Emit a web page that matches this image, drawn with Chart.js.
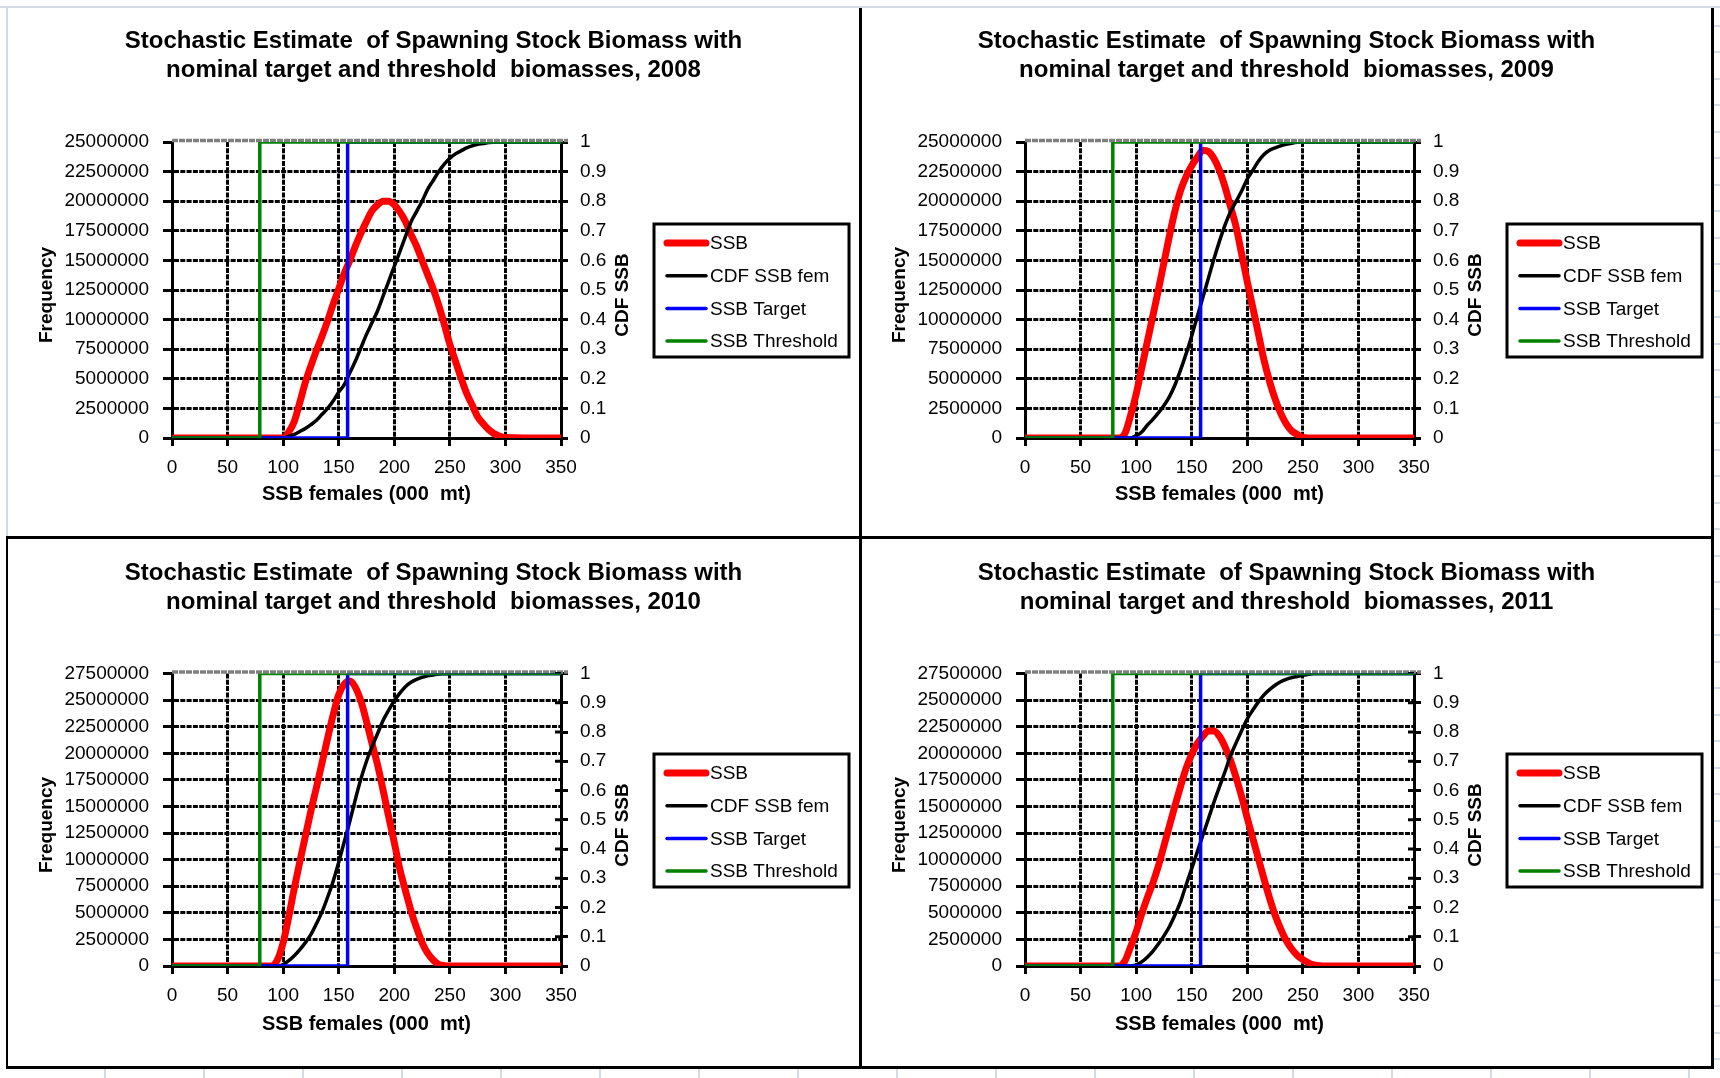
<!DOCTYPE html>
<html>
<head>
<meta charset="utf-8">
<title>Stochastic Estimate of Spawning Stock Biomass</title>
<script src="https://cdn.jsdelivr.net/npm/chart.js@4.4.1/dist/chart.umd.min.js"></script>
<style>
html, body { margin: 0; padding: 0; background: #fff; }
#page { position: relative; width: 1720px; height: 1078px; overflow: hidden; background: #fff; }
canvas { position: absolute; }
.ln { position: absolute; background: #000; }
.cell { position: absolute; background: #d5dbe6; }
</style>
</head>
<body>
<div id="page">
  <canvas id="c2008" width="849" height="527" style="left:9px;top:9px"></canvas>
  <canvas id="c2009" width="849" height="527" style="left:862px;top:9px"></canvas>
  <canvas id="c2010" width="849" height="527" style="left:9px;top:539px"></canvas>
  <canvas id="c2011" width="849" height="527" style="left:862px;top:539px"></canvas>

  <div class="cell" style="left:0;top:6px;width:1720px;height:2px"></div>
  <div class="cell" style="left:6px;top:6px;width:2px;height:531px"></div>
  <div class="ln" style="left:859px;top:8px;width:3px;height:1060px"></div>
  <div class="ln" style="left:6px;top:536px;width:1707px;height:3px"></div>
  <div class="ln" style="left:1711px;top:8px;width:3px;height:1060px"></div>
  <div class="ln" style="left:6px;top:1066px;width:1708px;height:3px"></div>
  <div class="ln" style="left:6px;top:536px;width:2px;height:532px"></div>
  <div id="cells"></div>
</div>

<script>
// SSB females (000 mt) at which the curves were read
const ssbGrid = [0, 80, 85, 90, 95, 100, 105, 110, 115, 120, 125, 130, 135, 140, 145, 150, 155, 160, 165, 170,
  175, 180, 185, 190, 195, 200, 205, 210, 215, 220, 225, 230, 235, 240, 245, 250, 255, 260, 265, 270,
  275, 280, 285, 290, 295, 300, 350];

// frequency, in millions
const freq2008 = [0, 0, 0, 0, 0, 0, 0.5, 1.4, 3.0, 4.7, 6.1, 7.4, 8.6, 9.9, 11.3, 12.6, 13.9, 15.0, 16.2, 17.3,
  18.3, 19.2, 19.7, 20.0, 20.0, 19.7, 19.1, 18.3, 17.2, 16.2, 15.0, 13.8, 12.6, 11.2, 9.6, 7.9, 6.5, 5.1, 3.8, 2.8,
  1.8, 1.2, 0.7, 0.35, 0.15, 0.05, 0];
const freq2009 = [0, 0, 0, 0.4, 1.9, 3.7, 5.9, 8.1, 10.3, 12.5, 14.8, 17.1, 19.2, 20.9, 22.1, 23.0, 23.7, 24.3, 24.2, 23.6,
  22.6, 21.2, 19.5, 17.8, 15.5, 13.2, 11.0, 8.8, 6.6, 4.8, 3.3, 2.1, 1.2, 0.6, 0.3, 0.05, 0, 0, 0, 0,
  0, 0, 0, 0, 0, 0, 0];
const freq2010 = [0, 0, 0, 0, 0.6, 2.2, 4.6, 7.3, 9.8, 12.2, 14.6, 16.8, 19.1, 21.4, 23.6, 25.5, 26.5, 26.8, 26.2, 24.9,
  23.0, 20.9, 18.9, 16.5, 14.0, 11.6, 9.1, 7.1, 5.2, 3.6, 2.2, 1.2, 0.56, 0.15, 0.03, 0, 0, 0, 0, 0,
  0, 0, 0, 0, 0, 0, 0];
const freq2011 = [0, 0, 0, 0.5, 1.8, 3.2, 4.9, 6.4, 7.8, 9.4, 11.3, 13.2, 15.1, 16.9, 18.6, 19.9, 20.9, 21.6, 22.1, 22.1,
  21.6, 20.6, 19.3, 17.7, 15.9, 13.9, 12.0, 10.1, 8.2, 6.4, 4.8, 3.5, 2.4, 1.6, 1.0, 0.6, 0.3, 0.1, 0.02, 0,
  0, 0, 0, 0, 0, 0, 0];

// cumulative distribution (right axis)
const cdf2008 = [0, 0, 0, 0, 0, 0, 0.005, 0.012, 0.022, 0.032, 0.045, 0.06, 0.08, 0.10, 0.125, 0.155, 0.18, 0.22, 0.26, 0.305,
  0.35, 0.39, 0.43, 0.48, 0.53, 0.58, 0.63, 0.68, 0.73, 0.765, 0.80, 0.84, 0.87, 0.90, 0.925, 0.945, 0.96, 0.97, 0.98, 0.987,
  0.992, 0.995, 0.998, 1, 1, 1, 1];
const cdf2009 = [0, 0, 0, 0, 0, 0.008, 0.02, 0.043, 0.063, 0.085, 0.11, 0.14, 0.18, 0.23, 0.285, 0.345, 0.41, 0.475, 0.54, 0.605,
  0.665, 0.72, 0.765, 0.80, 0.835, 0.875, 0.905, 0.935, 0.958, 0.972, 0.98, 0.987, 0.992, 0.996, 0.999, 1, 1, 1, 1, 1,
  1, 1, 1, 1, 1, 1, 1];
const cdf2010 = [0, 0, 0, 0, 0, 0.005, 0.018, 0.035, 0.056, 0.08, 0.108, 0.145, 0.185, 0.235, 0.29, 0.355, 0.425, 0.495, 0.57, 0.64,
  0.70, 0.75, 0.795, 0.84, 0.875, 0.907, 0.933, 0.955, 0.97, 0.98, 0.987, 0.992, 0.995, 0.998, 0.999, 1, 1, 1, 1, 1,
  1, 1, 1, 1, 1, 1, 1];
const cdf2011 = [0, 0, 0, 0, 0, 0.004, 0.014, 0.03, 0.05, 0.075, 0.103, 0.135, 0.175, 0.22, 0.278, 0.333, 0.39, 0.447, 0.503, 0.56,
  0.613, 0.665, 0.72, 0.763, 0.805, 0.845, 0.875, 0.903, 0.927, 0.945, 0.96, 0.972, 0.98, 0.986, 0.99, 0.994, 0.997, 1, 1, 1,
  1, 1, 1, 1, 1, 1, 1];

// reference points drawn as steps on the CDF axis
const targetX = [0, 158, 158, 350];
const thresholdX = [0, 79, 79, 350];
const stepY = [0, 0, 1, 1];

const years = [2008, 2009, 2010, 2011];
const freqSeries = [freq2008, freq2009, freq2010, freq2011];
const cdfSeries = [cdf2008, cdf2009, cdf2010, cdf2011];
const freqAxisMax = [25000000, 25000000, 27500000, 27500000];
const freqStep = 2500000;
const seriesLabels = ['SSB', 'CDF SSB fem', 'SSB Target', 'SSB Threshold'];

const FONT = '"Liberation Sans", Arial, Helvetica, sans-serif';
Chart.defaults.font.family = FONT;
Chart.defaults.color = '#000';

const CW = 849, CH = 527;
const PLOT_LEFT = 163, PLOT_RIGHT = 552;
const GRID_DASH = [5, 1.3];

// light spreadsheet cells around the charts
(function () {
  const host = document.getElementById('cells');
  let html = '';
  for (let x = 104; x < 1720; x += 99) html += '<div class="cell" style="left:' + x + 'px;top:1069px;width:2px;height:9px"></div>';
  for (let y = 1058; y > 8; y -= 26.5) html += '<div class="cell" style="left:1714px;top:' + Math.round(y) + 'px;width:6px;height:2px"></div>';
  host.innerHTML = html;
})();

const panelDecor = {
  id: 'panelDecor',
  beforeDatasetsDraw(chart, args, opts) {
    const { ctx, chartArea: a, scales } = chart;
    ctx.save();
    // grey top edge of the plot area
    ctx.strokeStyle = '#808080';
    ctx.lineWidth = 3.5;
    ctx.setLineDash([6, 1]);
    ctx.beginPath();
    ctx.moveTo(a.left, a.top - 1.5);
    ctx.lineTo(a.right + 7, a.top - 1.5);
    ctx.stroke();
    ctx.setLineDash([]);
    if (opts.crossTicks) {
      ctx.strokeStyle = '#000';
      ctx.lineWidth = 3;
      scales.y2.ticks.forEach(t => {
        const y = scales.y2.getPixelForValue(t.value);
        ctx.beginPath();
        ctx.moveTo(a.right - 6, y);
        ctx.lineTo(a.right, y);
        ctx.stroke();
      });
    }
    ctx.restore();
  },
  afterDraw(chart) {
    const { ctx } = chart;
    ctx.save();
    ctx.fillStyle = '#000';
    ctx.textAlign = 'center';
    ctx.textBaseline = 'middle';
    ctx.font = 'bold 19px ' + FONT;
    [[38, 'Frequency'], [614, 'CDF SSB']].forEach(([x, t]) => {
      ctx.save();
      ctx.translate(x, 286);
      ctx.rotate(-Math.PI / 2);
      ctx.fillText(t, 0, 0);
      ctx.restore();
    });

    // legend
    ctx.strokeStyle = '#000';
    ctx.lineWidth = 3;
    ctx.strokeRect(645, 215, 195, 133);
    ctx.font = '19px ' + FONT;
    ctx.textAlign = 'left';
    chart.data.datasets.forEach((ds, i) => {
      const y = 234 + i * 32.7;
      ctx.strokeStyle = ds.borderColor;
      ctx.lineWidth = ds.borderWidth;
      ctx.lineCap = 'round';
      ctx.beginPath();
      ctx.moveTo(658, y);
      ctx.lineTo(697, y);
      ctx.stroke();
      ctx.fillText(ds.label, 701, y + 1);
    });
    ctx.restore();
  }
};

function buildChart(i) {
  const top = i < 2 ? { title: 17.5, plot: 133, bottom: 429 } : { title: 19.5, plot: 134.5, bottom: 427 };
  const yMax = freqAxisMax[i];

  new Chart(document.getElementById('c' + years[i]), {
    type: 'scatter',
    data: {
      datasets: [
        {
          label: seriesLabels[0],
          data: ssbGrid.map((x, k) => ({ x, y: freqSeries[i][k] * 1e6 })),
          yAxisID: 'y', showLine: true, borderColor: '#ff0000', borderWidth: 7,
          borderJoinStyle: 'round', borderCapStyle: 'round',
          cubicInterpolationMode: 'monotone', pointRadius: 0, clip: 0, order: 4
        },
        {
          label: seriesLabels[1],
          data: ssbGrid.map((x, k) => ({ x, y: cdfSeries[i][k] })),
          yAxisID: 'y2', showLine: true, borderColor: '#000000', borderWidth: 3.5,
          cubicInterpolationMode: 'monotone', pointRadius: 0, clip: 0, order: 3
        },
        {
          label: seriesLabels[2],
          data: targetX.map((x, k) => ({ x, y: stepY[k] })),
          yAxisID: 'y2', showLine: true, borderColor: '#0000ff', borderWidth: 3.5,
          pointRadius: 0, clip: 0, order: 2
        },
        {
          label: seriesLabels[3],
          data: thresholdX.map((x, k) => ({ x, y: stepY[k] })),
          yAxisID: 'y2', showLine: true, borderColor: '#008000', borderWidth: 3.5,
          pointRadius: 0, clip: 0, order: 1
        }
      ]
    },
    options: {
      responsive: false,
      animation: false,
      events: [],
      layout: { padding: 0 },
      plugins: {
        legend: { display: false },
        tooltip: { enabled: false },
        title: {
          display: true,
          text: ['Stochastic Estimate  of Spawning Stock Biomass with',
                 'nominal target and threshold  biomasses, ' + years[i]],
          color: '#000',
          font: { size: 24, weight: 'bold', lineHeight: 29 / 24 },
          padding: { top: top.title, bottom: top.plot - top.title - 58 }
        },
        panelDecor: { crossTicks: i >= 2 }
      },
      scales: {
        x: {
          type: 'linear', position: 'bottom', min: 0, max: 350,
          afterFit: s => { s.height = CH - top.bottom; },
          ticks: { stepSize: 50, padding: 10, autoSkip: false, maxRotation: 0, color: '#000', font: { size: 19 } },
          grid: {
            color: c => (c.tick && (c.tick.value === 0 || c.tick.value === 350)) ? 'rgba(0,0,0,0)' : '#000',
            lineWidth: 3, tickLength: 8, tickColor: '#000', tickWidth: 3
          },
          border: { color: '#000', width: 3, dash: GRID_DASH },
          title: {
            display: true, text: 'SSB females (000  mt)', color: '#000',
            font: { size: 20, weight: 'bold' }, padding: { top: 0, bottom: 30 }
          }
        },
        y: {
          type: 'linear', position: 'left', min: 0, max: yMax,
          afterFit: s => { s.width = PLOT_LEFT; },
          ticks: {
            stepSize: freqStep, padding: 14, autoSkip: false, color: '#000', font: { size: 19 },
            callback: v => String(Math.round(v))
          },
          grid: {
            color: c => (c.tick && (c.tick.value === 0 || c.tick.value === yMax)) ? 'rgba(0,0,0,0)' : '#000',
            lineWidth: 3, tickLength: 9, tickColor: '#000', tickWidth: 3
          },
          border: { color: '#000', width: 3, dash: GRID_DASH }
        },
        y2: {
          type: 'linear', position: 'right', min: 0, max: 1,
          afterFit: s => { s.width = CW - PLOT_RIGHT; },
          ticks: {
            stepSize: 0.1, padding: 12, autoSkip: false, color: '#000', font: { size: 19 },
            callback: v => String(Math.round(v * 10) / 10)
          },
          grid: { drawOnChartArea: false, tickLength: 7, tickColor: '#000', tickWidth: 3 },
          border: { color: '#000', width: 3 }
        }
      }
    },
    plugins: [panelDecor]
  });
}

years.forEach((y, i) => buildChart(i));
</script>
</body>
</html>
